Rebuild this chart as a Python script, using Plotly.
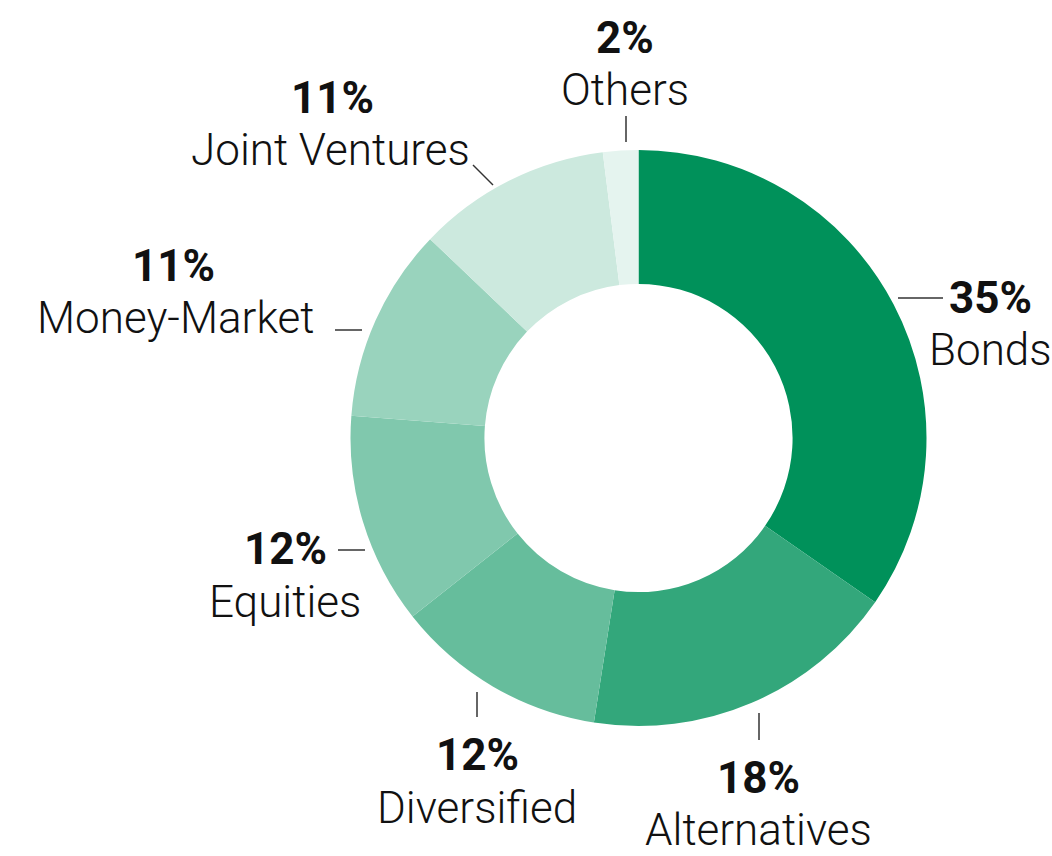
import plotly.graph_objects as go

W, H = 1052, 856

categories = ["Bonds", "Alternatives", "Diversified", "Equities", "Money-Market", "Joint Ventures", "Others"]
values = [35, 18, 12, 12, 11, 11, 2]
pct_labels = ["35%", "18%", "12%", "12%", "11%", "11%", "2%"]
colors = ["#00915A", "#33A77B", "#66BD9C", "#80C8AD", "#99D3BD", "#CCE9DE", "#E5F4EF"]

# label layout (pixel positions, top-left origin): pct centre, name centre, leader line
label_layout = {
    "Bonds":          dict(pct=(990, 298), name=(990, 350), line=((898, 298), (943, 298))),
    "Alternatives":   dict(pct=(758, 778), name=(758, 830), line=((759, 713), (759, 740))),
    "Diversified":    dict(pct=(477, 755), name=(477, 808), line=((477, 692), (477, 717))),
    "Equities":       dict(pct=(285, 549), name=(285, 602), line=((338, 550), (365, 550))),
    "Money-Market":   dict(pct=(173, 266), name=(175, 318), line=((335, 330), (362, 330))),
    "Joint Ventures": dict(pct=(332, 98),  name=(330, 150), line=((473, 165), (493, 185))),
    "Others":         dict(pct=(625, 38),  name=(625, 90),  line=((626, 116), (626, 142))),
}

cx, cy, R = 638.5, 438, 288


def px(x):
    return x / W


def py(y):
    return 1 - y / H


fig = go.Figure(go.Pie(
    labels=categories,
    values=values,
    marker=dict(colors=colors, line=dict(width=0)),
    hole=0.535,
    sort=False,
    direction="clockwise",
    rotation=0,
    textinfo="none",
    hoverinfo="label+percent",
    showlegend=False,
    domain=dict(x=[px(cx - R), px(cx + R)], y=[py(cy + R), py(cy - R)]),
))

FONT = "Roboto"
FS = 44
annotations = []
shapes = []
for cat, pct in zip(categories, pct_labels):
    L = label_layout[cat]
    annotations.append(dict(
        x=px(L["pct"][0]), y=py(L["pct"][1]), xref="paper", yref="paper",
        text=pct, showarrow=False, xanchor="center", yanchor="middle",
        font=dict(family=FONT, size=FS, color="#111111", weight=700),
    ))
    annotations.append(dict(
        x=px(L["name"][0]), y=py(L["name"][1]), xref="paper", yref="paper",
        text=cat, showarrow=False, xanchor="center", yanchor="middle",
        font=dict(family=FONT, size=FS, color="#111111", weight=300),
    ))
    (x0, y0), (x1, y1) = L["line"]
    shapes.append(dict(
        type="line", xref="paper", yref="paper",
        x0=px(x0), y0=py(y0), x1=px(x1), y1=py(y1),
        line=dict(color="#333333", width=1.5),
    ))

fig.update_layout(
    width=W, height=H,
    margin=dict(l=0, r=0, t=0, b=0),
    paper_bgcolor="white",
    plot_bgcolor="white",
    annotations=annotations,
    shapes=shapes,
)

fig.write_html(
    "out.html",
    config={"displayModeBar": False},
    post_script="document.body.style.margin='0';document.body.style.overflow='hidden';",
)
